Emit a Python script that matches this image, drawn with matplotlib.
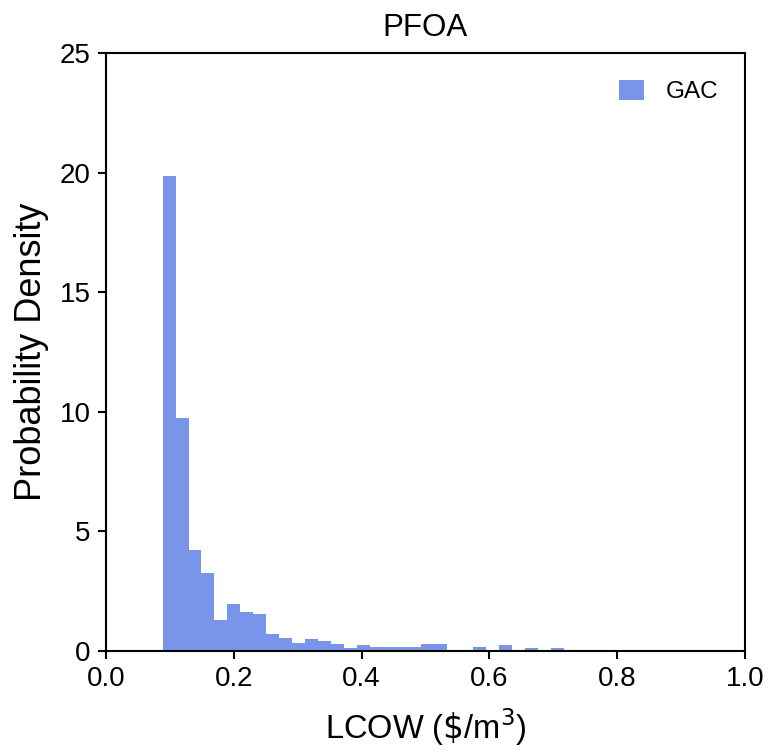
import numpy as np
import matplotlib
matplotlib.use("Agg")
import matplotlib.pyplot as plt

plt.rcParams["font.family"] = ["Liberation Sans", "DejaVu Sans"]

# histogram of GAC LCOW samples (density)
BIN_START = 0.0887
BIN_WIDTH = 0.02025
density = [
    19.85, 9.75, 4.24, 3.26, 1.31, 1.95, 1.63, 1.53, 0.71, 0.56,
    0.35, 0.52, 0.41, 0.29, 0.13, 0.24, 0.17, 0.17, 0.17, 0.17,
    0.29, 0.29, 0.02, 0.03, 0.18, 0.0, 0.24, 0.0, 0.14, 0.0,
    0.14, 0.03, 0.03, 0.0, 0.03, 0.0, 0.03, 0.0, 0.03, 0.03,
    0.0, 0.03, 0.0, 0.03, 0.0,
]
edges = BIN_START + BIN_WIDTH * np.arange(len(density) + 1)

x_ticks = [0.0, 0.2, 0.4, 0.6, 0.8, 1.0]
y_ticks = [0, 5, 10, 15, 20, 25]

fig = plt.figure(figsize=(7.69, 7.55), dpi=100)
ax = fig.add_axes([0.1378, 0.1377, 0.831, 0.792])

ax.hist(edges[:-1], bins=edges, weights=density, color="royalblue",
        alpha=0.7, label="GAC")

ax.set_xlim(0, 1)
ax.set_ylim(0, 25)
ax.set_xticks(x_ticks)
ax.set_yticks(y_ticks)
ax.tick_params(labelsize=20, length=6, width=1.5, pad=5, direction="out")
for s in ax.spines.values():
    s.set_linewidth(1.5)

ax.set_title("PFOA", fontsize=22.5, pad=12)
ax.set_xlabel("LCOW ($\\$$/m$^3$)", fontsize=23.5, labelpad=10)
ax.set_ylabel("Probability Density", fontsize=26, labelpad=8)
ax.legend(frameon=False, fontsize=17.5, loc="upper right",
          handlelength=1.0, handleheight=0.9, handletextpad=0.9,
          borderaxespad=0.7)

fig.savefig("out.png", dpi=100)
